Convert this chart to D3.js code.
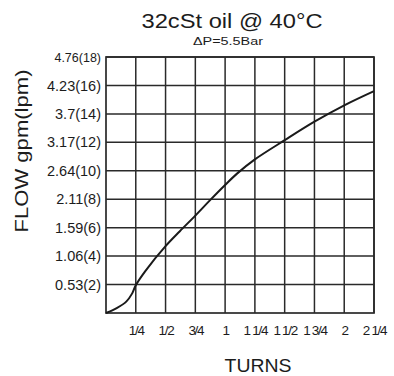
<!DOCTYPE html>
<html>
<head>
<meta charset="utf-8">
<script src="https://cdn.jsdelivr.net/npm/d3@7"></script>
<style>
  html, body { margin: 0; padding: 0; background: #fff; }
  svg { display: block; }
  text { font-family: "Liberation Sans", Arial, sans-serif; fill: #1c1c1c; }
</style>
</head>
<body>
<svg id="chart" width="394" height="376"></svg>
<script>
// Flow vs. adjustment turns, 32cSt oil at 40°C, ΔP = 5.5 bar
const turns = [0, 0.09, 0.17, 0.22, 0.25, 0.33, 0.5, 0.62, 0.75, 0.87, 1.0, 1.1, 1.25, 1.5, 1.75, 2.0, 2.25];
const flowLpm = [0, 0.34, 0.8, 1.38, 1.95, 2.95, 4.7, 5.75, 6.85, 7.9, 9.0, 9.8, 10.8, 12.15, 13.45, 14.6, 15.6];

const xTickValues = [0.25, 0.5, 0.75, 1, 1.25, 1.5, 1.75, 2, 2.25];
const xTickLabels = ["1/4", "1/2", "3/4", "1", "1 1/4", "1 1/2", "1 3/4", "2", "2 1/4"];
const yTickValues = [2, 4, 6, 8, 10, 12, 14, 16, 18];
const yTickLabels = ["0.53(2)", "1.06(4)", "1.59(6)", "2.11(8)", "2.64(10)", "3.17(12)", "3.7(14)", "4.23(16)", "4.76(18)"];

const svg = d3.select("#chart");
const m = { left: 106, right: 374, top: 57, bottom: 313 };

const x = d3.scaleLinear().domain([0, 2.25]).range([m.left, m.right]);
const y = d3.scaleLinear().domain([0, 18]).range([m.bottom, m.top]);

const ink = "#2a2a2a";

// grid
const grid = svg.append("g");
grid.selectAll("line.v").data(xTickValues).join("line")
  .attr("x1", d => x(d)).attr("x2", d => x(d))
  .attr("y1", m.top).attr("y2", m.bottom)
  .attr("stroke", ink).attr("stroke-width", 1.5);
grid.selectAll("line.h").data(yTickValues).join("line")
  .attr("x1", m.left).attr("x2", m.right)
  .attr("y1", d => y(d)).attr("y2", d => y(d))
  .attr("stroke", ink).attr("stroke-width", 1.5);
// frame
svg.append("rect")
  .attr("x", m.left).attr("y", m.top)
  .attr("width", m.right - m.left).attr("height", m.bottom - m.top)
  .attr("fill", "none").attr("stroke", ink).attr("stroke-width", 1.7);

// y axis labels
const yAxis = d3.axisLeft(y).tickValues(yTickValues)
  .tickFormat((d, i) => yTickLabels[i]).tickSize(0).tickPadding(5);
const gy = svg.append("g").attr("transform", `translate(${m.left},0)`).call(yAxis);
gy.select(".domain").remove();
gy.selectAll("text")
  .style("font-family", "'Liberation Sans', Arial, sans-serif")
  .style("font-size", d => d === 18 ? "12.5px" : "14.5px")
  .attr("fill", "#1c1c1c");

// x axis labels
const xAxis = d3.axisBottom(x).tickValues(xTickValues)
  .tickFormat((d, i) => xTickLabels[i]).tickSize(0).tickPadding(12);
const gx = svg.append("g").attr("transform", `translate(0,${m.bottom})`).call(xAxis);
gx.select(".domain").remove();
gx.selectAll("text")
  .style("font-family", "'Liberation Sans Narrow', 'Liberation Sans', Arial, sans-serif")
  .style("font-size", "13.5px")
  .style("letter-spacing", "-1.3px")
  .attr("fill", "#1c1c1c");

// flow curve
const line = d3.line()
  .x((d, i) => x(turns[i]))
  .y(d => y(d))
  .curve(d3.curveCatmullRom.alpha(0.5));
svg.append("path")
  .datum(flowLpm)
  .attr("d", line)
  .attr("fill", "none")
  .attr("stroke", "#1a1a1a")
  .attr("stroke-width", 2);

// titles
svg.append("text")
  .attr("x", 232).attr("y", 28)
  .attr("text-anchor", "middle")
  .attr("textLength", 181).attr("lengthAdjust", "spacingAndGlyphs")
  .style("font-size", "20px")
  .text("32cSt oil @ 40°C");
svg.append("text")
  .attr("x", 228).attr("y", 45)
  .attr("text-anchor", "middle")
  .attr("textLength", 70).attr("lengthAdjust", "spacingAndGlyphs")
  .style("font-size", "10.5px")
  .text("ΔP=5.5Bar");
svg.append("text")
  .attr("transform", "translate(28,151) rotate(-90)")
  .attr("text-anchor", "middle")
  .attr("textLength", 163).attr("lengthAdjust", "spacingAndGlyphs")
  .style("font-size", "18px")
  .text("FLOW gpm(lpm)");
svg.append("text")
  .attr("x", 258).attr("y", 372)
  .attr("text-anchor", "middle")
  .attr("textLength", 67).attr("lengthAdjust", "spacingAndGlyphs")
  .style("font-size", "18px")
  .text("TURNS");
</script>
</body>
</html>
